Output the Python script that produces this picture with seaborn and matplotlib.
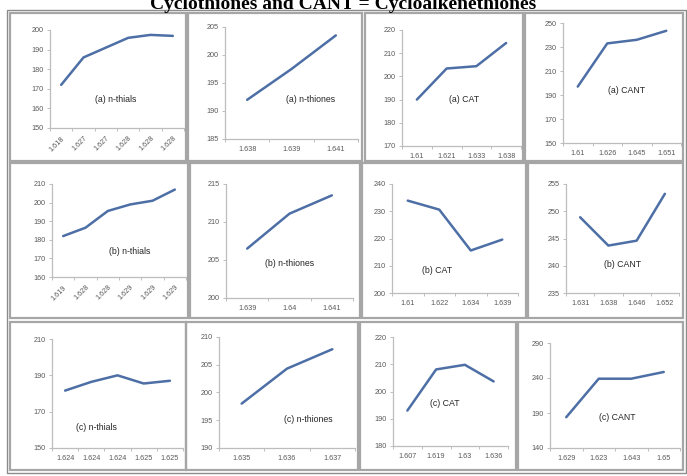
import numpy as np
import matplotlib
matplotlib.use("Agg")
import matplotlib.pyplot as plt
from matplotlib.patches import Rectangle
import seaborn as sns

sns.set_theme(style="white")
plt.rcParams["font.family"] = ["Liberation Sans", "DejaVu Sans"]

TITLE = "Cyclothiones and CANT = Cycloalkenethiones"

# ---- data: refractive index (x categories) vs. property value (y) ----
a_thials_x = ["1.618", "1.627", "1.627", "1.628", "1.628", "1.628"]
a_thials_y = [172, 186, 191, 196, 197.5, 197]
a_thiones_x = ["1.638", "1.639", "1.641"]
a_thiones_y = [192, 197.5, 203.5]
a_cat_x = ["1.61", "1.621", "1.633", "1.638"]
a_cat_y = [190, 203.4, 204.4, 214.4]
a_cant_x = ["1.61", "1.626", "1.645", "1.651"]
a_cant_y = [197, 233, 236, 243.5]

b_thials_x = ["1.619", "1.628", "1.628", "1.629", "1.629", "1.629"]
b_thials_y = [182, 186.5, 195.5, 199, 201, 207]
b_thiones_x = ["1.639", "1.64", "1.641"]
b_thiones_y = [206.5, 211.1, 213.5]
b_cat_x = ["1.61", "1.622", "1.634", "1.639"]
b_cat_y = [233.9, 230.6, 215.6, 219.6]
b_cant_x = ["1.631", "1.638", "1.646", "1.652"]
b_cant_y = [248.9, 243.7, 244.6, 253.2]

c_thials_x = ["1.624", "1.624", "1.624", "1.625", "1.625"]
c_thials_y = [181.6, 186.4, 190, 185.5, 187]
c_thiones_x = ["1.635", "1.636", "1.637"]
c_thiones_y = [198, 204.3, 207.8]
c_cat_x = ["1.607", "1.619", "1.63", "1.636"]
c_cat_y = [193, 208.1, 209.8, 203.7]
c_cant_x = ["1.629", "1.623", "1.643", "1.65"]
c_cant_y = [184, 239, 239, 248.6]

panel_labels = [
    "(a) n-thials", "(a) n-thiones", "(a) CAT", "(a) CANT",
    "(b) n-thials", "(b) n-thiones", "(b) CAT", "(b) CANT",
    "(c) n-thials", "(c) n-thiones", "(c) CAT", "(c) CANT",
]
series_x = [a_thials_x, a_thiones_x, a_cat_x, a_cant_x,
            b_thials_x, b_thiones_x, b_cat_x, b_cant_x,
            c_thials_x, c_thiones_x, c_cat_x, c_cant_x]
series_y = [a_thials_y, a_thiones_y, a_cat_y, a_cant_y,
            b_thials_y, b_thiones_y, b_cat_y, b_cant_y,
            c_thials_y, c_thiones_y, c_cat_y, c_cant_y]

# y-axis ranges (min, max, step)
y_ranges = [(150, 200, 10), (185, 205, 5), (170, 220, 10), (150, 250, 20),
            (160, 210, 10), (200, 215, 5), (200, 240, 10), (235, 255, 5),
            (150, 210, 20), (190, 210, 5), (180, 220, 10), (140, 290, 50)]

# ---- layout (pixels) ----
W, H = 687, 476
plot_boxes = [
    (50, 30, 184, 128), (225, 27, 358, 139), (402, 30, 521, 146), (563, 23, 681, 143),
    (52, 184, 186, 277), (226, 184, 353, 298), (392, 184, 518, 293), (566, 184, 679, 293),
    (52, 339, 183, 448), (219, 337, 355, 448), (393, 337, 508, 446), (550, 343, 680, 448),
]
label_pos = [
    (0.49, 0.29), (0.64, 0.35), (0.52, 0.40), (0.54, 0.44),
    (0.58, 0.27), (0.50, 0.30), (0.36, 0.21), (0.50, 0.26),
    (0.34, 0.19), (0.66, 0.26), (0.45, 0.39), (0.52, 0.29),
]
frames = [
    (10, 13, 186, 161), (188, 13, 362, 161), (365, 13, 523, 161), (525, 13, 683, 161),
    (10, 163, 188, 318), (190, 163, 360, 318), (362, 163, 526, 318), (528, 163, 683, 318),
    (10, 322, 186, 470), (186, 322, 358, 470), (360, 322, 516, 470), (518, 322, 683, 470),
]
rotated = {0, 4}

fig = plt.figure(figsize=(W / 100, H / 100), dpi=100)
fig.patch.set_facecolor("white")

# outer border and chart frames
for (x0, y0, x1, y1) in frames:
    fig.patches.append(Rectangle((x0 / W, 1 - y1 / H), (x1 - x0) / W, (y1 - y0) / H,
                                 transform=fig.transFigure, fill=False,
                                 edgecolor="#a6a6a6", linewidth=1.6))
fig.patches.append(Rectangle((7 / W, 1 - 473 / H), 679 / W, 463 / H,
                             transform=fig.transFigure, fill=False,
                             edgecolor="#8c8c8c", linewidth=1.0))

line_color = "#4d6fa6"
axis_color = "#bdbdbd"
tick_color = "#595959"

for i in range(12):
    x0, y0, x1, y1 = plot_boxes[i]
    ax = fig.add_axes([x0 / W, 1 - y1 / H, (x1 - x0) / W, (y1 - y0) / H])
    xs = series_x[i]
    ys = series_y[i]
    n = len(xs)
    sns.lineplot(x=np.arange(n), y=ys, ax=ax, color=line_color, linewidth=1.8)
    lo, hi, st = y_ranges[i]
    ax.set_ylim(lo, hi)
    ax.set_yticks(np.arange(lo, hi + st / 2, st))
    ax.set_xlim(-0.5, n - 0.5)
    ax.set_xticks(np.arange(n))
    if i in rotated:
        ax.set_xticklabels(xs, rotation=45, ha="right", rotation_mode="anchor")
    else:
        ax.set_xticklabels(xs)
    ax.set_xticks(np.arange(n + 1) - 0.5, minor=True)
    ax.tick_params(axis="x", which="major", length=0, pad=5, labelsize=5.2,
                   labelcolor=tick_color)
    ax.tick_params(axis="x", which="minor", length=2.5, width=0.7, color=axis_color,
                   direction="out", bottom=True)
    ax.tick_params(axis="y", which="major", length=2.5, width=0.7, color=axis_color,
                   direction="out", left=True, pad=2, labelsize=5.2,
                   labelcolor=tick_color)
    for s in ("top", "right"):
        ax.spines[s].set_visible(False)
    for s in ("left", "bottom"):
        ax.spines[s].set_color(axis_color)
        ax.spines[s].set_linewidth(0.9)
    ax.set_xlabel("")
    ax.set_ylabel("")
    ax.set_facecolor("none")
    lx, ly = label_pos[i]
    ax.text(lx, ly, panel_labels[i], transform=ax.transAxes, ha="center", va="center",
            fontsize=6.3, color="#262626")

fig.text(0.5, 1 - 9 / H, TITLE, ha="center", va="baseline", fontsize=14,
         fontweight="bold", family=["Liberation Serif", "DejaVu Serif"], color="black")

fig.savefig("out.png", dpi=100)
